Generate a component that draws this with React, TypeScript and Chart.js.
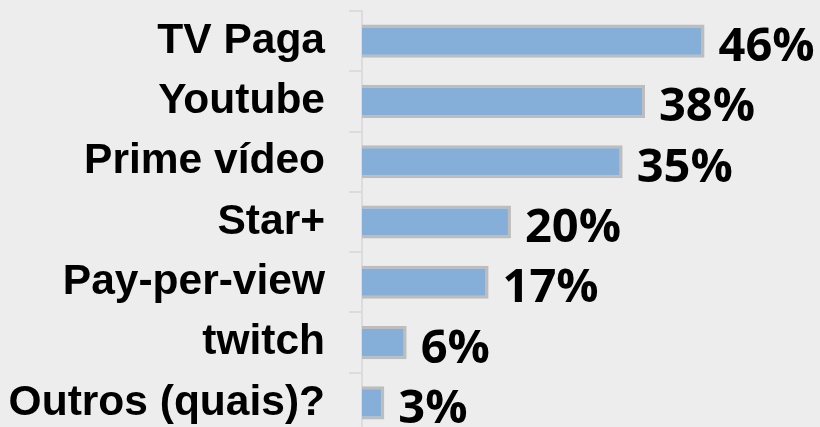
import React, { useEffect, useRef } from "react";
import { Chart, registerables } from "chart.js";

Chart.register(...registerables);

const categories = [
  "TV Paga",
  "Youtube",
  "Prime vídeo",
  "Star+",
  "Pay-per-view",
  "twitch",
  "Outros (quais)?",
];
const values = [46, 38, 35, 20, 17, 6, 3];
const valueLabels = ["46%", "38%", "35%", "20%", "17%", "6%", "3%"];

const BG = "#ededed";

const bgPlugin = {
  id: "bgFill",
  beforeDraw(chart: any) {
    const { ctx, width, height } = chart;
    ctx.save();
    ctx.fillStyle = BG;
    ctx.fillRect(0, 0, width, height);
    ctx.restore();
  },
};

const labelPlugin = {
  id: "valueLabels",
  afterDatasetsDraw(chart: any) {
    const { ctx } = chart;
    const meta = chart.getDatasetMeta(0);
    ctx.save();
    ctx.fillStyle = "#000";
    ctx.font = "bold 47px 'Open Sans'";
    ctx.textAlign = "left";
    ctx.textBaseline = "alphabetic";
    meta.data.forEach((bar: any, i: number) => {
      ctx.fillText(valueLabels[i], bar.x + 14, bar.y + 20);
    });
    ctx.restore();
  },
};

export default function App() {
  const ref = useRef<HTMLCanvasElement | null>(null);

  useEffect(() => {
    document.documentElement.style.overflow = "hidden";
    document.body.style.margin = "0";
    document.body.style.overflow = "hidden";
    document.body.style.background = BG;
    if (!ref.current) return;
    const chart = new Chart(ref.current, {
      type: "bar",
      data: {
        labels: categories,
        datasets: [
          {
            data: values,
            backgroundColor: "#85aed8",
            borderColor: "#bdbdbd",
            borderWidth: 3,
            borderSkipped: "start",
            categoryPercentage: 1,
            barPercentage: 0.55,
          },
        ],
      },
      options: {
        indexAxis: "y",
        animation: false,
        responsive: false,
        devicePixelRatio: 1,
        layout: { padding: { top: 11, left: 0, right: 0, bottom: 0 } },
        plugins: {
          legend: { display: false },
          tooltip: { enabled: false },
        },
        scales: {
          x: { display: false, min: 0, max: 61.5 },
          y: {
            afterFit: (scale: any) => {
              scale.width = 362;
              scale.paddingTop = 0;
              scale.paddingBottom = 0;
            },
            grid: {
              display: true,
              drawOnChartArea: false,
              drawTicks: true,
              tickLength: 13,
              color: "#dcdcdc",
              lineWidth: 2,
            },
            border: { display: true, color: "#dcdcdc", width: 2 },
            ticks: {
              color: "#000",
              padding: 24,
              autoSkip: false,
              font: { family: "'Liberation Sans', Arial", weight: "bold", size: 42.5 },
            },
          },
        },
      },
      plugins: [bgPlugin, labelPlugin],
    });
    return () => chart.destroy();
  }, []);

  return <canvas ref={ref} width={820} height={433} style={{ display: "block" }} />;
}
